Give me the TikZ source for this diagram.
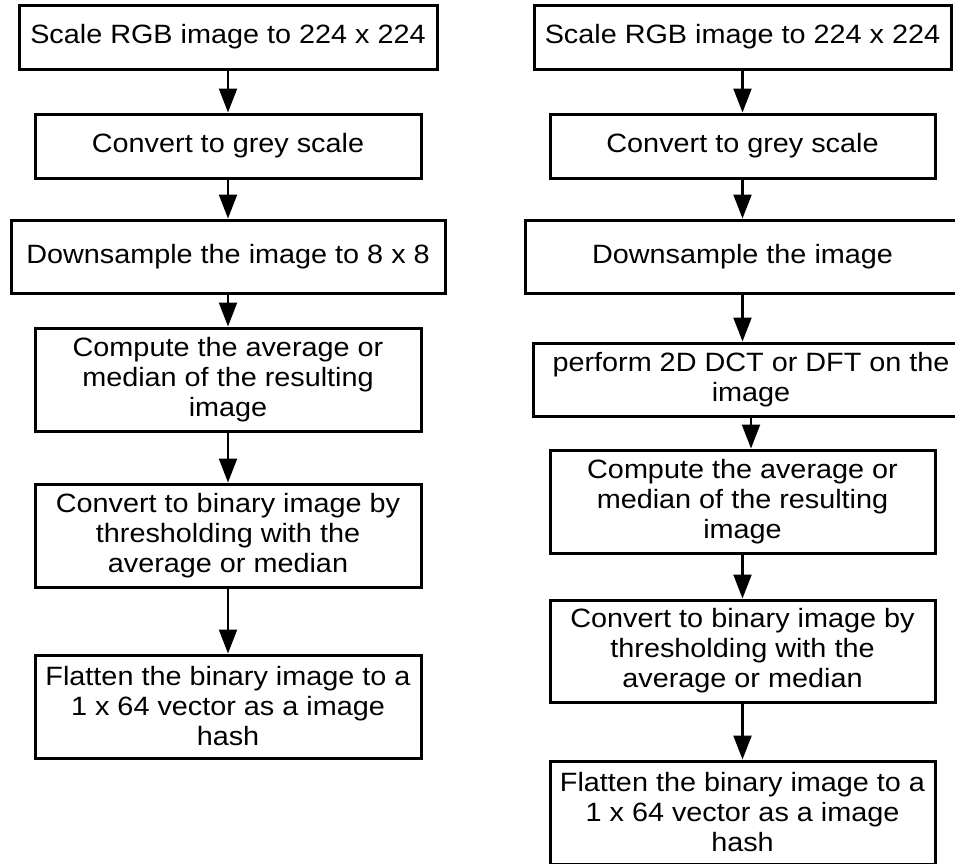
\documentclass[tikz,border=0pt]{standalone}
\usepackage{fontspec}
\setmainfont[FakeStretch=1.087]{Liberation Sans}
\usetikzlibrary{arrows.meta}
\tikzset{
  stepbox/.style={draw=black, line width=3pt, fill=white, align=center, inner sep=0pt,
    font=\fontsize{26.5}{30}\selectfont},
  flow/.style={line width=2.2pt, -{Triangle[width=18pt,length=24pt]}}
}
\begin{document}
\begin{tikzpicture}[x=1pt,y=-1pt]
\path[use as bounding box, clip] (0,0) rectangle (955,863);
\fill[white] (0,0) rectangle (955,863);
% left column
\node[stepbox, minimum width=418pt, minimum height=64pt] (L1) at (228,37) {Scale RGB image to 224 x 224};
\node[stepbox, minimum width=386pt, minimum height=64pt] (L2) at (228,146) {Convert to grey scale};
\node[stepbox, minimum width=434pt, minimum height=73pt] (L3) at (228,256.5) {Downsample the image to 8 x 8};
\node[stepbox, minimum width=386pt, minimum height=103pt] (L4) at (228,379.5) {Compute the average or\\median of the resulting\\image};
\node[stepbox, minimum width=386pt, minimum height=103pt] (L5) at (228,535.5) {Convert to binary image by\\thresholding with the\\average or median};
\node[stepbox, minimum width=386pt, minimum height=103pt] (L6) at (228,706.5) {Flatten the binary image to a\\1 x 64 vector as a image\\hash};
% right column
\node[stepbox, minimum width=417pt, minimum height=64pt] (R1) at (742.5,37) {Scale RGB image to 224 x 224};
\node[stepbox, minimum width=385pt, minimum height=64pt] (R2) at (742.5,146) {Convert to grey scale};
\node[stepbox, minimum width=434pt, minimum height=73pt] (R3) at (742.5,256.5) {Downsample the image};
\node[stepbox, minimum width=436pt, minimum height=73pt] (R4) at (751,379.5) {perform 2D DCT or DFT on the\\image};
\node[stepbox, minimum width=385pt, minimum height=103pt] (R5) at (742.5,501.5) {Compute the average or\\median of the resulting\\image};
\node[stepbox, minimum width=385pt, minimum height=102pt] (R6) at (742.5,651) {Convert to binary image by\\thresholding with the\\average or median};
\node[stepbox, minimum width=385pt, minimum height=103pt] (R7) at (742.5,812.5) {Flatten the binary image to a\\1 x 64 vector as a image\\hash};
% connectors
\draw[flow] (L1.south) -- (L2.north);
\draw[flow] (L2.south) -- (L3.north);
\draw[flow] (L3.south) -- (L4.north);
\draw[flow] (L4.south) -- (L5.north);
\draw[flow] (L5.south) -- (L6.north);
\draw[flow] (R1.south) -- (R2.north);
\draw[flow] (R2.south) -- (R3.north);
\draw[flow] (R3.south) -- (R3.south |- R4.north);
\draw[flow] (R4.south) -- (R4.south |- R5.north);
\draw[flow] (R5.south) -- (R6.north);
\draw[flow] (R6.south) -- (R7.north);
\end{tikzpicture}
\end{document}
